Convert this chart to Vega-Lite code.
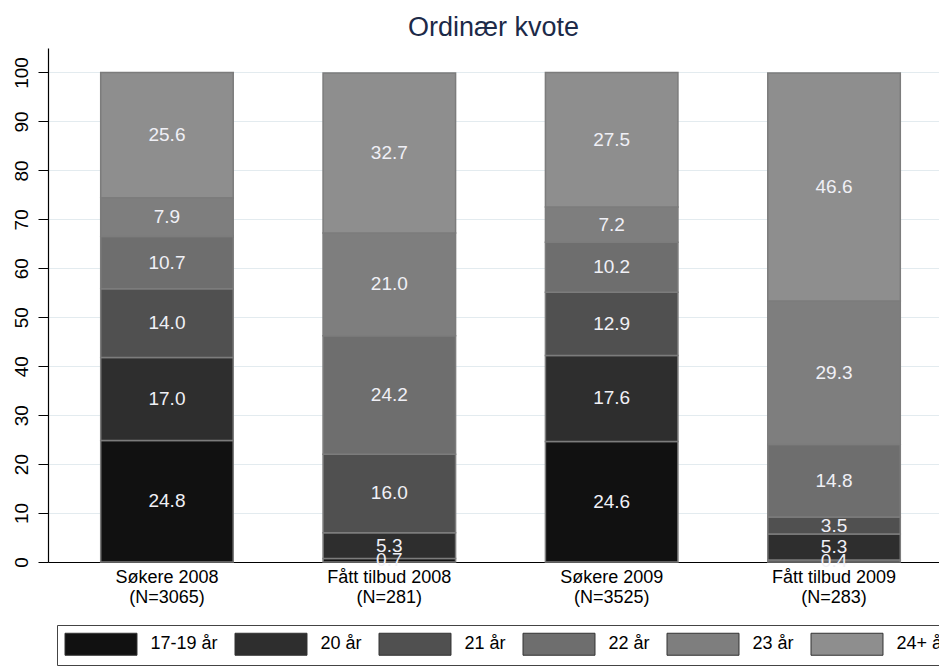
{
  "$schema": "https://vega.github.io/schema/vega-lite/v6.json",
  "width": 891,
  "height": 514,
  "autosize": "none",
  "padding": {"left": 48, "top": 48, "right": 0, "bottom": 104},
  "background": "white",
  "title": {"text": "Ordinær kvote", "fontSize": 27, "fontWeight": "normal", "color": "#1c2a48", "offset": 6, "anchor": "middle", "frame": "group"},
  "config": {"font": "Liberation Sans", "view": {"stroke": null}},
  "data": {"values": [
    {"g": "Søkere 2008|(N=3065)", "a": "17-19 år", "v": 24.8},
    {"g": "Søkere 2008|(N=3065)", "a": "20 år", "v": 17.0},
    {"g": "Søkere 2008|(N=3065)", "a": "21 år", "v": 14.0},
    {"g": "Søkere 2008|(N=3065)", "a": "22 år", "v": 10.7},
    {"g": "Søkere 2008|(N=3065)", "a": "23 år", "v": 7.9},
    {"g": "Søkere 2008|(N=3065)", "a": "24+ år", "v": 25.6},
    {"g": "Fått tilbud 2008|(N=281)", "a": "17-19 år", "v": 0.7},
    {"g": "Fått tilbud 2008|(N=281)", "a": "20 år", "v": 5.3},
    {"g": "Fått tilbud 2008|(N=281)", "a": "21 år", "v": 16.0},
    {"g": "Fått tilbud 2008|(N=281)", "a": "22 år", "v": 24.2},
    {"g": "Fått tilbud 2008|(N=281)", "a": "23 år", "v": 21.0},
    {"g": "Fått tilbud 2008|(N=281)", "a": "24+ år", "v": 32.7},
    {"g": "Søkere 2009|(N=3525)", "a": "17-19 år", "v": 24.6},
    {"g": "Søkere 2009|(N=3525)", "a": "20 år", "v": 17.6},
    {"g": "Søkere 2009|(N=3525)", "a": "21 år", "v": 12.9},
    {"g": "Søkere 2009|(N=3525)", "a": "22 år", "v": 10.2},
    {"g": "Søkere 2009|(N=3525)", "a": "23 år", "v": 7.2},
    {"g": "Søkere 2009|(N=3525)", "a": "24+ år", "v": 27.5},
    {"g": "Fått tilbud 2009|(N=283)", "a": "17-19 år", "v": 0.4},
    {"g": "Fått tilbud 2009|(N=283)", "a": "20 år", "v": 5.3},
    {"g": "Fått tilbud 2009|(N=283)", "a": "21 år", "v": 3.5},
    {"g": "Fått tilbud 2009|(N=283)", "a": "22 år", "v": 14.8},
    {"g": "Fått tilbud 2009|(N=283)", "a": "23 år", "v": 29.3},
    {"g": "Fått tilbud 2009|(N=283)", "a": "24+ år", "v": 46.6}
  ]},
  "transform": [
    {"stack": "v", "groupby": ["g"], "sort": [{"field": "a", "order": "ascending"}], "as": ["y0", "y1"]},
    {"calculate": "(datum.y0 + datum.y1) / 2", "as": "ym"}
  ],
  "encoding": {
    "x": {
      "field": "g", "type": "nominal", "sort": null,
      "scale": {"range": [0, 905], "paddingInner": 0.404, "paddingOuter": 0.237},
      "axis": {
        "title": null, "ticks": false, "labelAngle": 0, "labelPadding": 6,
        "labelFontSize": 18, "labelColor": "#000", "labelLineHeight": 20,
        "labelExpr": "split(datum.label, '|')", "domainColor": "#000", "domainWidth": 1.2
      }
    }
  },
  "layer": [
    {
      "mark": {"type": "bar", "stroke": "#7c7c7c", "strokeWidth": 1.5},
      "encoding": {
        "y": {
          "field": "y0", "type": "quantitative",
          "scale": {"domain": [0, 105], "nice": false, "zero": true},
          "axis": {
            "title": null, "values": [0, 10, 20, 30, 40, 50, 60, 70, 80, 90, 100],
            "grid": true, "gridColor": "#e3ebef", "gridWidth": 1.2,
            "domainColor": "#000", "domainWidth": 1.2, "tickColor": "#000", "tickSize": 10,
            "labelAngle": 270, "labelAlign": "center", "labelBaseline": "alphabetic",
            "labelPadding": 11, "labelFontSize": 19, "labelColor": "#000"
          }
        },
        "y2": {"field": "y1"},
        "color": {
          "field": "a", "type": "nominal",
          "scale": {
            "domain": ["17-19 år", "20 år", "21 år", "22 år", "23 år", "24+ år"],
            "range": ["#111111", "#2e2e2e", "#505050", "#6e6e6e", "#7e7e7e", "#8e8e8e"]
          },
          "legend": {
            "orient": "none", "legendX": 9, "legendY": 577,
            "direction": "horizontal", "columns": 6, "title": null,
            "symbolType": "M-1,-1H5.545V1H-1Z", "symbolSize": 484,
            "symbolStrokeColor": "#333", "symbolStrokeWidth": 1, "symbolOpacity": 1,
            "labelFontSize": 18, "labelColor": "#000", "labelOffset": 63,
            "columnPadding": 14, "padding": 7.5,
            "strokeColor": "#444", "fillColor": "white"
          }
        }
      }
    },
    {
      "mark": {"type": "text", "fontSize": 19, "color": "#f0f0f6", "baseline": "middle"},
      "encoding": {
        "y": {"field": "ym", "type": "quantitative"},
        "text": {"field": "v", "type": "quantitative", "format": ".1f"}
      }
    }
  ]
}
